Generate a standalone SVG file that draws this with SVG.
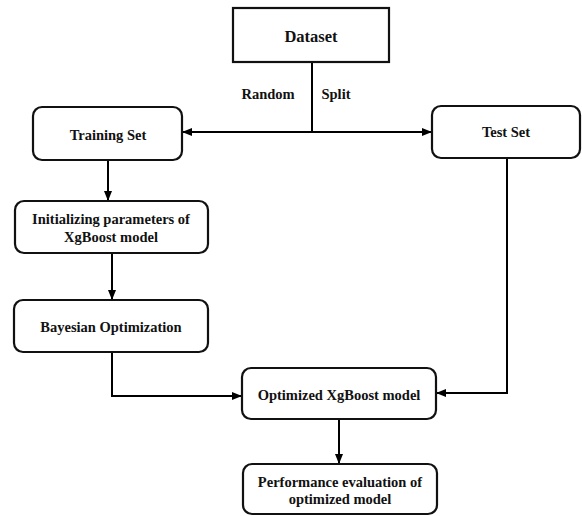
<svg xmlns="http://www.w3.org/2000/svg" width="582" height="516" viewBox="0 0 582 516">
<defs>
<marker id="ah" markerWidth="10" markerHeight="8" refX="9" refY="4" orient="auto" markerUnits="userSpaceOnUse">
<path d="M0,0 L10,4 L0,8 Z" fill="#000"/>
</marker>
<style>
.box{fill:#fff;stroke:#111;stroke-width:2.2}
.t{font-family:"Liberation Serif","Times New Roman",serif;font-weight:bold;font-size:14.5px;fill:#111;text-anchor:middle}
.c{fill:none;stroke:#000;stroke-width:2}
</style>
</defs>
<rect width="582" height="516" fill="#fff"/>
<g id="connectors">
<path class="c" d="M312,62 V132"/>
<path class="c" d="M312,132 H183" marker-end="url(#ah)"/>
<path class="c" d="M312,132 H431" marker-end="url(#ah)"/>
<path class="c" d="M108,160 V200" marker-end="url(#ah)"/>
<path class="c" d="M112,253 V299" marker-end="url(#ah)"/>
<path class="c" d="M112,352 V396 H241" marker-end="url(#ah)"/>
<path class="c" d="M507,158 V393 H437" marker-end="url(#ah)"/>
<path class="c" d="M339,419 V463" marker-end="url(#ah)"/>
<text class="t" x="268" y="99">Random</text>
<text class="t" x="336" y="99">Split</text>
</g>
<g id="dataset">
<rect class="box" x="233" y="8" width="156" height="54"/>
<text class="t" x="311" y="42" style="font-size:16.5px">Dataset</text>
</g>
<g id="training-set">
<rect class="box" x="33" y="107" width="149" height="53" rx="9"/>
<text class="t" x="108" y="140">Training Set</text>
</g>
<g id="test-set">
<rect class="box" x="432" y="106" width="148" height="52" rx="9"/>
<text class="t" x="506" y="137">Test Set</text>
</g>
<g id="init-params">
<rect class="box" x="15" y="201" width="193" height="52" rx="9"/>
<text class="t" x="111" y="224">Initializing parameters of</text>
<text class="t" x="111" y="242">XgBoost model</text>
</g>
<g id="bayesian">
<rect class="box" x="14" y="300" width="194" height="52" rx="9"/>
<text class="t" x="111" y="332">Bayesian Optimization</text>
</g>
<g id="optimized">
<rect class="box" x="242" y="368" width="194" height="51" rx="9"/>
<text class="t" x="339" y="400">Optimized XgBoost model</text>
</g>
<g id="performance">
<rect class="box" x="243" y="464" width="194" height="50" rx="9"/>
<text class="t" x="340" y="487">Performance evaluation of</text>
<text class="t" x="340" y="504">optimized model</text>
</g>
</svg>
